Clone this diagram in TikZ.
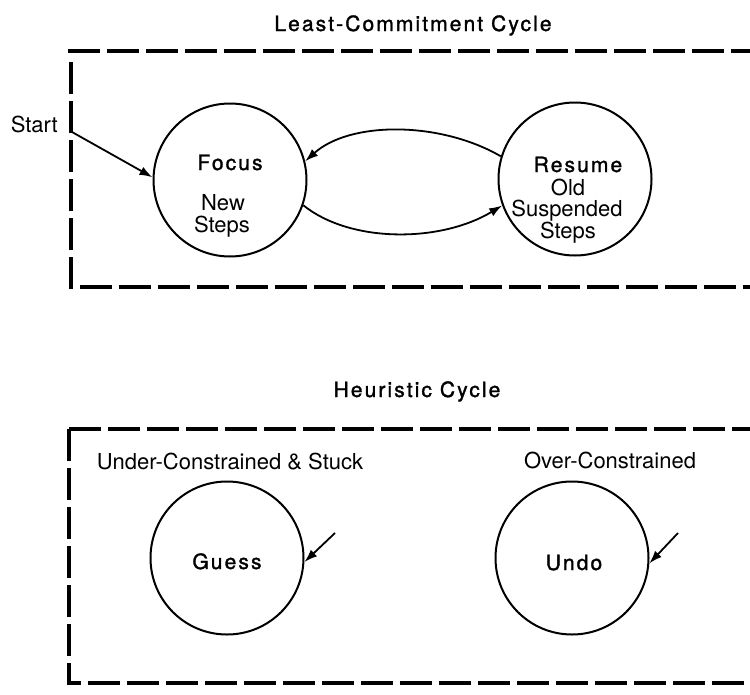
\documentclass[tikz,border=0pt]{standalone}
\usepackage{fontspec}
\setmainfont{TeX Gyre Heros}
\newfontfamily\headfont{TeX Gyre Heros}[FakeBold=1.5,LetterSpace=10]
\usetikzlibrary{arrows.meta}
\begin{document}
\begin{tikzpicture}[x=1pt,y=-1pt]
\tikzset{
  state/.style={circle, draw, line width=2pt, minimum size=153pt, inner sep=0pt},
  txt/.style={font=\fontsize{22}{24}\selectfont, inner sep=0pt, anchor=base},
  head/.style={font=\headfont\fontsize{21}{24}\selectfont, inner sep=0pt, anchor=base},
  flow/.style={line width=1.8pt, -{Latex[length=13pt,width=9pt]}},
  frame/.style={line width=4pt, dash pattern=on 32pt off 7pt},
}
\useasboundingbox (0,0) rectangle (750,694);

% ---- Least-commitment cycle ----
\node[head] (lctitle) at (413,31) {Least-Commitment Cycle};
\draw[frame] (68,51) -- (750,51);
\draw[frame] (71,62) -- (71,287) -- (750,287);

\node[state] (focus) at (230,180) {};
\node[state] (resume) at (575,179) {};

\node[head] (focust) at (230,170) {Focus};
\node[txt] (newt) at (223,210) {New};
\node[txt] (stepst) at (222,232) {Steps};

\node[head] (resumet) at (578,172) {Resume};
\node[txt] (oldt) at (568,195) {Old};
\node[txt] (suspt) at (567,216) {Suspended};
\node[txt] (steps2t) at (568,238) {Steps};

\node[txt, anchor=base east] (start) at (58,132) {Start};
\coordinate (startpt) at (72,132);
\draw[flow] (startpt) -- (focus.178);

\draw[flow] (resume.163) .. controls (440,121) and (350,121) .. (focus.14);
\draw[flow] (focus.-19) .. controls (350,243) and (440,243) .. (resume.-160);

% ---- Heuristic cycle ----
\node[head] (htitle) at (417,397) {Heuristic Cycle};
\draw[frame] (69,429) -- (750,429);
\draw[frame] (69,429) -- (69,683) -- (750,683);

\node[txt] (under) at (230,469) {Under-Constrained \& Stuck};
\node[txt] (over) at (610,468) {Over-Constrained};

\node[state] (guess) at (227,558) {};
\node[state] (undo) at (572,558) {};
\node[head] (guesst) at (227,569) {Guess};
\node[head] (undot) at (574,570) {Undo};

\coordinate (gin) at (335,533);
\coordinate (uin) at (678,533);
\draw[flow] (gin) -- (guess.-3);
\draw[flow] (uin) -- (undo.-4);
\end{tikzpicture}
\end{document}
